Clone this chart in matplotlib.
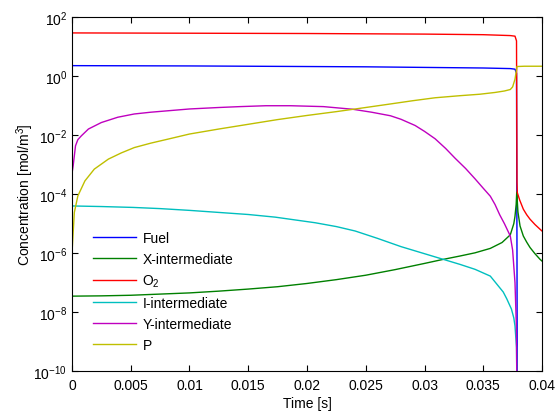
import numpy as np
import matplotlib
matplotlib.use("Agg")
import matplotlib.pyplot as plt
from matplotlib.ticker import NullLocator, FuncFormatter

plt.rcParams['font.family'] = ['Liberation Sans', 'DejaVu Sans']
plt.rcParams['font.size'] = 10
plt.rcParams['mathtext.fontset'] = 'custom'
plt.rcParams['mathtext.rm'] = 'Liberation Sans'
plt.rcParams['mathtext.it'] = 'Liberation Sans:italic'

# values, stored as log10(concentration)
fuel_t   = [0, 0.005, 0.01, 0.015, 0.02, 0.025, 0.03, 0.035, 0.0373, 0.0377, 0.03783, 0.03787, 0.0379, 0.04]
fuel_log = [0.36, 0.355, 0.35, 0.34, 0.33, 0.32, 0.30, 0.28, 0.26, 0.24, 0.1, -6.0, -12, -12]

x_t   = [0, 0.0025, 0.005, 0.0075, 0.01, 0.0125, 0.015, 0.0175, 0.02, 0.0225, 0.025, 0.0275,
         0.03, 0.0315, 0.033, 0.0343, 0.0356, 0.0366, 0.0373, 0.0376, 0.0377, 0.0378, 0.03785,
         0.03795, 0.03813, 0.03841, 0.0387, 0.03898, 0.0394, 0.03983, 0.04]
x_log = [-7.46, -7.45, -7.43, -7.39, -7.35, -7.29, -7.22, -7.14, -7.03, -6.9, -6.75, -6.56,
         -6.35, -6.22, -6.1, -5.99, -5.84, -5.64, -5.38, -5.0, -4.75, -4.35, -3.93,
         -4.6, -5.08, -5.42, -5.63, -5.81, -6.02, -6.21, -6.27]

o2_t   = [0, 0.01, 0.02, 0.03, 0.035, 0.0373, 0.0377, 0.03783, 0.03787, 0.0379, 0.0381,
          0.03841, 0.0387, 0.03898, 0.0394, 0.03983, 0.04]
o2_log = [1.47, 1.46, 1.45, 1.43, 1.41, 1.38, 1.36, 1.2, -3.6, -3.95, -4.2,
          -4.51, -4.7, -4.85, -5.03, -5.19, -5.25]

i_t   = [0, 0.0025, 0.0052, 0.0075, 0.01, 0.0125, 0.015, 0.0173, 0.0207, 0.0225, 0.0241,
         0.026, 0.028, 0.03, 0.0315, 0.033, 0.0343, 0.0356, 0.0367, 0.037, 0.0374, 0.0376,
         0.0377, 0.03783, 0.03786, 0.0379, 0.04]
i_log = [-4.4, -4.42, -4.45, -4.49, -4.55, -4.62, -4.69, -4.78, -4.97, -5.1, -5.25,
         -5.5, -5.78, -6.02, -6.2, -6.38, -6.55, -6.78, -7.32, -7.55, -7.9, -8.2,
         -8.47, -9.2, -10.5, -12, -12]

y_t   = [0, 0.0001, 0.0003, 0.0005, 0.0008, 0.0014, 0.0025, 0.0039, 0.0053, 0.0067, 0.0082,
         0.01, 0.0125, 0.0143, 0.0165, 0.0186, 0.0214, 0.0239, 0.0255, 0.0271, 0.028, 0.0292,
         0.03, 0.0309, 0.0318, 0.0326, 0.0335, 0.0343, 0.035, 0.0356, 0.036, 0.0364, 0.0368,
         0.0373, 0.0375, 0.0377, 0.03782, 0.03787, 0.0379, 0.04]
y_log = [-3.3, -3.04, -2.36, -2.15, -2.02, -1.79, -1.57, -1.39, -1.28, -1.22, -1.17,
         -1.11, -1.06, -1.03, -1.0, -1.0, -1.03, -1.12, -1.22, -1.34, -1.46, -1.67,
         -1.87, -2.12, -2.45, -2.78, -3.13, -3.48, -3.8, -4.07, -4.35, -4.7, -5.0,
         -5.42, -5.9, -7.0, -8.5, -11, -12, -12]

p_t   = [0, 0.0002, 0.0005, 0.0011, 0.0019, 0.0031, 0.0042, 0.0053, 0.0067, 0.0082, 0.01,
         0.0125, 0.015, 0.0175, 0.02, 0.0225, 0.025, 0.0271, 0.029, 0.0309, 0.033, 0.0347,
         0.036, 0.0368, 0.0373, 0.0375, 0.0377, 0.03782, 0.03787, 0.0385, 0.04]
p_log = [-6.0, -4.62, -4.06, -3.55, -3.15, -2.81, -2.6, -2.42, -2.27, -2.13, -1.96,
         -1.79, -1.63, -1.47, -1.33, -1.2, -1.06, -0.94, -0.83, -0.73, -0.66, -0.61,
         -0.55, -0.5, -0.45, -0.36, -0.1, 0.2, 0.33, 0.34, 0.34]

series = [
    ("Fuel", fuel_t, fuel_log, (0, 0, 1)),
    ("X-intermediate", x_t, x_log, (0, 0.5, 0)),
    ("O$_2$", o2_t, o2_log, (1, 0, 0)),
    ("I-intermediate", i_t, i_log, (0, 0.75, 0.75)),
    ("Y-intermediate", y_t, y_log, (0.75, 0, 0.75)),
    ("P", p_t, p_log, (0.75, 0.75, 0)),
]

x_ticks = [0, 0.005, 0.01, 0.015, 0.02, 0.025, 0.03, 0.035, 0.04]
y_ticks = [1e-10, 1e-8, 1e-6, 1e-4, 1e-2, 1e0, 1e2]

fig = plt.figure(figsize=(5.55, 4.14), dpi=100)
ax = fig.add_axes([0.1297, 0.1014, 0.8469, 0.8544])

for label, t, lg, col in series:
    ax.plot(t, 10 ** np.array(lg), color=col, lw=1.0, label=label)

ax.set_yscale('log')
ax.set_xlim(0, 0.04)
ax.set_ylim(1e-10, 1e2)
ax.set_xticks(x_ticks)
ax.xaxis.set_major_formatter(FuncFormatter(lambda v, p: f"{v:g}"))
ax.set_yticks(y_ticks)
ax.yaxis.set_minor_locator(NullLocator())
ax.tick_params(direction='in', top=True, right=True, length=4, width=0.8, labelsize=10)
ax.tick_params(axis='x', pad=5)
for s in ax.spines.values():
    s.set_linewidth(0.8)

ax.set_xlabel("Time [s]", fontsize=10, labelpad=3)
ax.set_ylabel("Concentration [mol/m$^3$]", fontsize=10)
ax.yaxis.set_label_coords(-0.076, 0.5)

ax.legend(loc='upper left', bbox_to_anchor=(0.045, 0.396), frameon=False,
          handlelength=3.1, handletextpad=0.45, labelspacing=0.5,
          borderaxespad=0, borderpad=0, fontsize=10)

fig.savefig("out.png", dpi=100)
